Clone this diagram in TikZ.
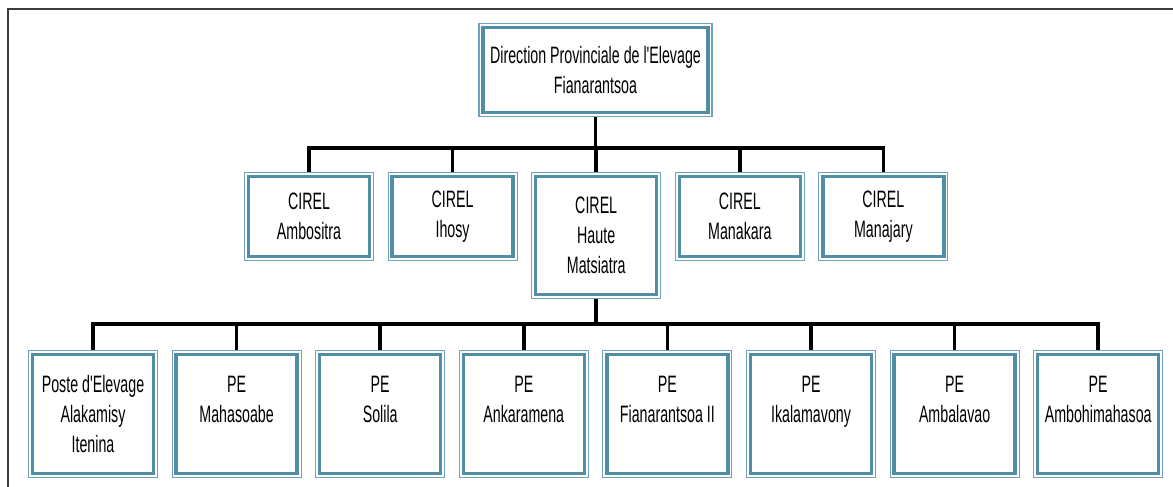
\documentclass[tikz,border=0pt]{standalone}
\usepackage{fontspec}
\newfontfamily\chartfont{Liberation Sans}[FakeStretch=0.6]
\usepackage{tikz}
\usetikzlibrary{calc}
\definecolor{boxblue}{RGB}{82,141,166}
\definecolor{boxedge}{RGB}{112,162,184}
\definecolor{framegray}{RGB}{60,60,60}
\tikzset{%
  box/.style    = {draw=boxedge, line width=0.6pt, rectangle, align=center,
    inner sep=0pt, minimum width=2.58cm, text=black,
    font=\chartfont\fontsize{13.5}{17}\selectfont,
    append after command={\pgfextra{\draw[boxblue, line width=1.9pt]
      ([shift={(2.6pt,2.6pt)}]\tikzlastnode.south west) rectangle
      ([shift={(-2.6pt,-2.6pt)}]\tikzlastnode.north east);}}},
  link/.style   = {draw=black, line width=2.1pt}
}
\begin{document}
\begin{tikzpicture}
    \useasboundingbox (0,0) rectangle (23.46,-9.74);
    % page frame
    \draw[framegray, line width=1.1pt] (0.16,-9.74) -- (0.16,-0.18) -- (23.46,-0.18);
    % direction
    \node[box, anchor=north, minimum width=4.66cm, minimum height=1.86cm]
        (dir) at (11.91,-0.46) {Direction Provinciale de l'Elevage\\Fianarantsoa};
    % CIREL
    \node[box, anchor=north, minimum height=1.76cm] (cambo)  at (6.18,-3.44)   {CIREL\\Ambositra};
    \node[box, anchor=north, minimum height=1.76cm] (cihosy) at (9.052,-3.44)  {CIREL\\Ihosy};
    \node[box, anchor=north, minimum height=2.52cm] (chaute) at (11.924,-3.44) {CIREL\\Haute\\Matsiatra};
    \node[box, anchor=north, minimum height=1.76cm] (cmana)  at (14.796,-3.44) {CIREL\\Manakara};
    \node[box, anchor=north, minimum height=1.76cm] (cmanj)  at (17.668,-3.44) {CIREL\\Manajary};
    % postes d'elevage
    \foreach \txt [count=\k] in {{Poste d'Elevage\\Alakamisy\\Itenina},
        {PE\\Mahasoabe\\\phantom{I}}, {PE\\Solila\\\phantom{I}},
        {PE\\Ankaramena\\\phantom{I}}, {PE\\Fianarantsoa II\\\phantom{I}},
        {PE\\Ikalamavony\\\phantom{I}}, {PE\\Ambalavao\\\phantom{I}},
        {PE\\Ambohimahasoa\\\phantom{I}}}
      \node[box, anchor=north, minimum height=2.54cm] (pe\k) at ({1.86+(\k-1)*2.872},-7.0) {\txt};
    % links
    \foreach \c in {cambo,cihosy,chaute,cmana,cmanj}
      \draw[link] (dir.south) -- ++(0,-0.62) -| (\c.north);
    \foreach \k in {1,...,8}
      \draw[link] (chaute.south) -- ++(0,-0.5) -| (pe\k.north);
\end{tikzpicture}
\end{document}
